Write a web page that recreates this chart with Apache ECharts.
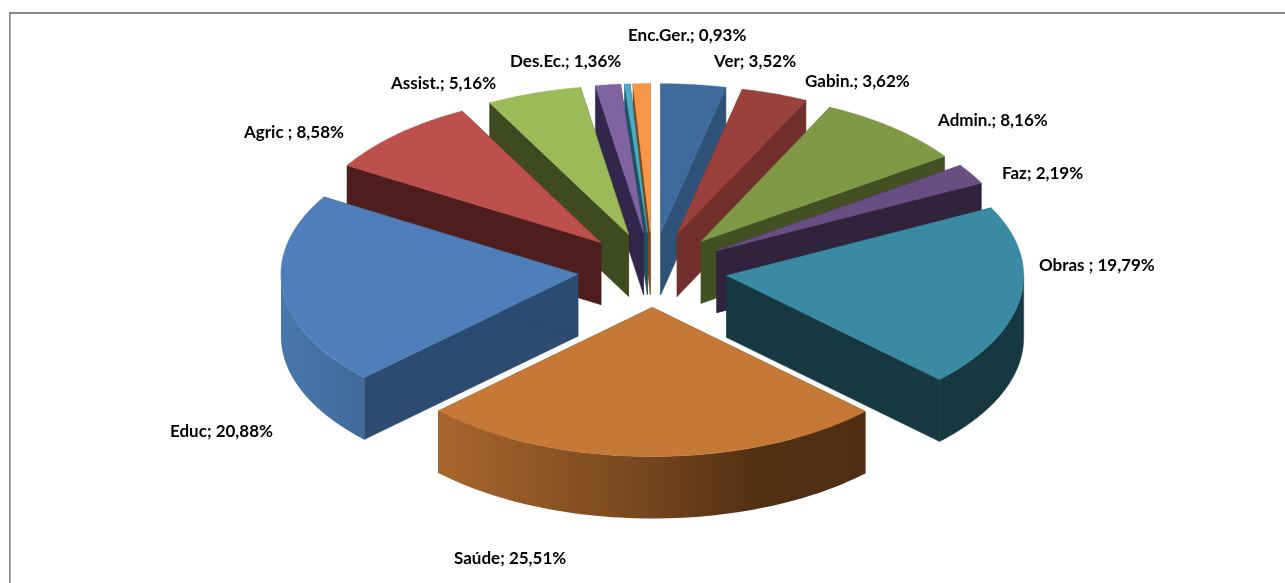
<!DOCTYPE html>
<html><head><meta charset="utf-8">
<style>html,body{margin:0;padding:0;background:#fff}#c{width:1285px;height:583px}</style>
<script src="https://cdn.jsdelivr.net/npm/echarts@6/dist/echarts.min.js"></script>
</head><body><div id="c"></div>
<script>
// Data, clockwise from 12 o'clock
const names  = ['Ver','Gabin.','Admin.','Faz','Obras ','Saúde','Educ','Agric ','Assist.','Des.Ec.','','Enc.Ger.'];
const values = [3.52,3.62,8.16,2.19,19.79,25.51,20.88,8.58,5.16,1.36,0.30,0.93];

// Styles
const topColors  = ['#3E6A9C','#9A403D','#7F9946','#684E82','#3A8AA3','#C67836','#4E7FBB','#BD4F4C','#9BBB59','#8064A2','#4BACC6','#F79646'];
const wallColors = ['#2F5279','#722F2C','#454F24','#32233D','#173840','#50300F','#2D4A70','#4E1E1E','#3F4A21','#32264A','#1D5260','#7A4A1E'];
const rimStops   = {5:[[0,'#A8662E'],[0.5,'#75451D'],[0.76,'#502F13'],[1,'#4F2E14']],6:[[0,'#4878AC'],[1,'#41699B']]};
// Label anchors (left edge, vertical centre)
const labelPos = [[714,62],[805,82],[938,121],[1002,174],[1039,266],[454,559],[170,432],[244,133],[391,84],[510,62],null,[628,36]];

// Pie projection
const CX=652.5, CY=270, RX=297, RY=149, DEPTH=62, EXPLODE=75;
const total = values.reduce((a,b)=>a+b,0);
const slices=[]; let acc=0;
values.forEach((v,i)=>{const s=acc/total*2*Math.PI; acc+=v; const e=acc/total*2*Math.PI;
  slices.push({i,s,e,m:(s+e)/2});});
const order = slices.slice().sort((a,b)=>Math.cos(b.m)-Math.cos(a.m));

function renderItem(params,api){
  const sl = slices[api.value(0)], rank=params.dataIndex*10;
  const ax = CX+EXPLODE*Math.sin(sl.m), ay = CY-EXPLODE*0.5*Math.cos(sl.m);
  const P=a=>[ax+RX*Math.sin(a), ay-RY*Math.cos(a)];
  const down=p=>[p[0],p[1]+DEPTH];
  const n=Math.max(4,Math.ceil((sl.e-sl.s)/0.01));
  const arc=[]; for(let k=0;k<=n;k++) arc.push(P(sl.s+(sl.e-sl.s)*k/n));
  const apex=[ax,ay], wall=wallColors[sl.i], top=topColors[sl.i];
  const poly=(pts,fill,z)=>({type:'polygon',z2:rank+z,shape:{points:pts},
    style:{fill,stroke:typeof fill==='string'?fill:null,lineWidth:typeof fill==='string'?0.5:0}});
  const kids=[];
  kids.push(poly([apex,arc[0],down(arc[0]),down(apex)],wall,0));
  kids.push(poly([apex,arc[n],down(arc[n]),down(apex)],wall,1));
  const lo=Math.max(sl.s,Math.PI/2), hi=Math.min(sl.e,1.5*Math.PI);
  if(hi>lo){
    const r=[]; for(let k=0;k<=60;k++) r.push(P(lo+(hi-lo)*k/60));
    const stops=rimStops[sl.i];
    const fill=stops?{type:'linear',x:0,y:0,x2:1,y2:0,colorStops:stops.map(s=>({offset:s[0],color:s[1]}))}:wall;
    kids.push(poly(r.concat(r.slice().reverse().map(down)),fill,2));
  }
  kids.push(poly([apex].concat(arc),top,3));
  return {type:'group',children:kids};
}

const labels = names.map((nm,i)=>labelPos[i]?{type:'text',x:labelPos[i][0],y:labelPos[i][1],z:50,
  style:{text:nm+'; '+values[i].toFixed(2).replace('.',',')+'%',fill:'#000',
  font:'bold 17px Lato',verticalAlign:'middle',align:'left'}}:null).filter(Boolean);
const frame = [
  {type:'rect',shape:{x:9,y:12,width:1276,height:2},style:{fill:'#868686'},silent:true},
  {type:'rect',shape:{x:9,y:12,width:1.6,height:571},style:{fill:'#868686'},silent:true}
];

const chart=echarts.init(document.getElementById('c'),null,{renderer:'canvas'});
chart.setOption({
  animation:false,backgroundColor:'#fff',
  graphic:frame.concat(labels),
  series:[{type:'custom',coordinateSystem:'none',renderItem,silent:true,
    data:order.map(s=>({value:[s.i],name:names[s.i]}))}]
});
</script></body></html>
